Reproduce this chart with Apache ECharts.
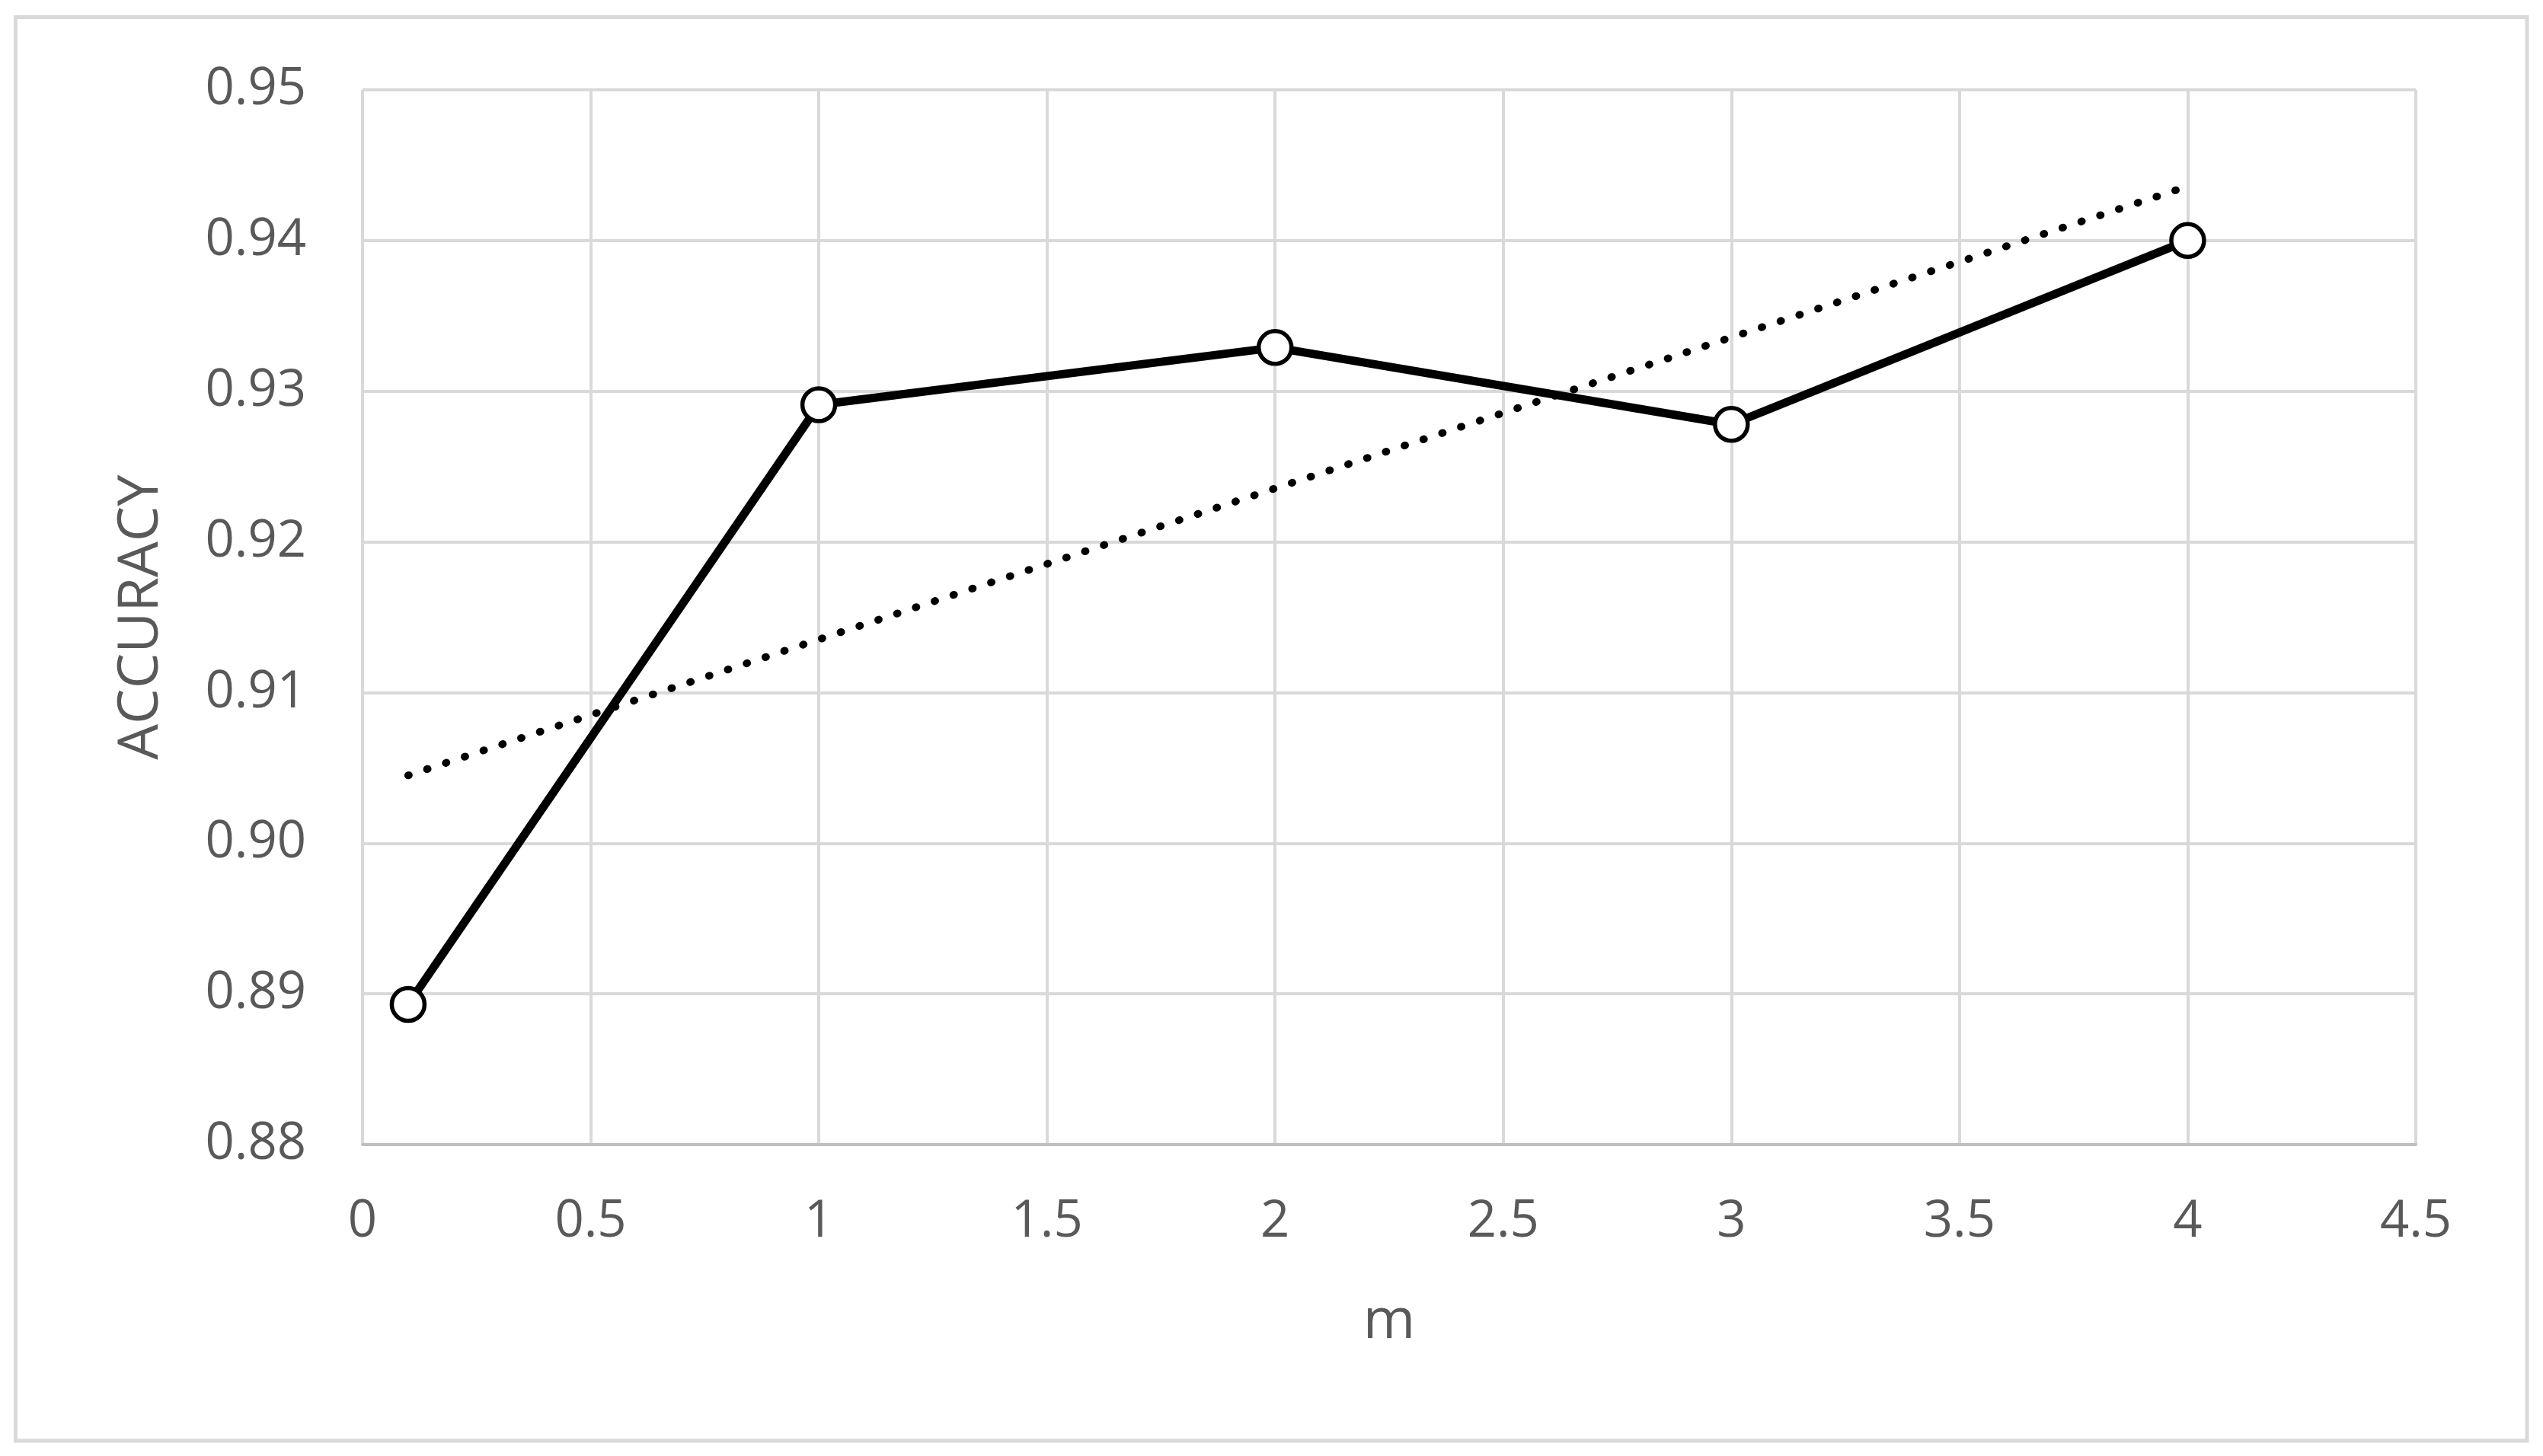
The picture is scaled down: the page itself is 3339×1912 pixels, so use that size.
<!DOCTYPE html>
<html>
<head>
<meta charset="utf-8">
<script src="https://cdn.jsdelivr.net/npm/echarts@6/dist/echarts.min.js"></script>
<style>
html,body{margin:0;padding:0;background:#fff;}
#chart{width:3339px;height:1912px;}
</style>
</head>
<body>
<div id="chart"></div>
<script>
// ---- data ----
var mValues = [0.1, 1, 2, 3, 4];
var accuracy = [0.8893, 0.9291, 0.9329, 0.9278, 0.9400];
var trendX = [0.1, 4];
var trendY = [0.9045, 0.9436];
var xAxisTitle = 'm';
var yAxisTitle = 'ACCURACY';

var FONT = 'Open Sans';
var TXT = '#595959';

var mainData = mValues.map(function (x, i) { return [x, accuracy[i]]; });
var trendData = trendX.map(function (x, i) { return [x, trendY[i]]; });

var chart = echarts.init(document.getElementById('chart'), null, {renderer: 'canvas'});
chart.setOption({
  animation: false,
  backgroundColor: '#fff',
  graphic: [{
    type: 'rect',
    shape: {x: 20.5, y: 22.5, width: 3297.5, height: 1869.5},
    style: {fill: 'none', stroke: '#d9d9d9', lineWidth: 5},
    silent: true
  }],
  grid: {left: 476, right: 167, top: 118, bottom: 409, containLabel: false},
  xAxis: {
    type: 'value',
    min: 0, max: 4.5, interval: 0.5,
    name: xAxisTitle,
    nameLocation: 'middle',
    nameGap: 196,
    nameTextStyle: {fontFamily: FONT, fontSize: 74, color: TXT},
    axisLine: {show: true, lineStyle: {color: '#bfbfbf', width: 4}},
    axisTick: {show: false},
    axisLabel: {fontFamily: FONT, fontSize: 67, color: TXT, margin: 68},
    splitLine: {show: true, lineStyle: {color: '#d9d9d9', width: 4}}
  },
  yAxis: {
    type: 'value',
    min: 0.88, max: 0.95, interval: 0.01,
    name: yAxisTitle,
    nameLocation: 'middle',
    nameGap: 253,
    nameRotate: 90,
    nameTextStyle: {fontFamily: FONT, fontSize: 74, color: TXT},
    axisLine: {show: false},
    axisTick: {show: false},
    axisLabel: {fontFamily: FONT, fontSize: 67, color: TXT, margin: 74,
      formatter: function (v) { return v.toFixed(2); }},
    splitLine: {show: true, lineStyle: {color: '#d9d9d9', width: 4}}
  },
  series: [{
    type: 'line',
    data: trendData,
    showSymbol: false,
    symbol: 'none',
    lineStyle: {color: '#000', width: 10, type: [1, 25], cap: 'round'},
    z: 2
  }, {
    type: 'line',
    data: mainData,
    symbol: 'circle',
    symbolSize: 43,
    showSymbol: true,
    lineStyle: {color: '#000', width: 11},
    itemStyle: {color: '#fff', borderColor: '#000', borderWidth: 5.5},
    z: 3
  }]
});
</script>
</body>
</html>
